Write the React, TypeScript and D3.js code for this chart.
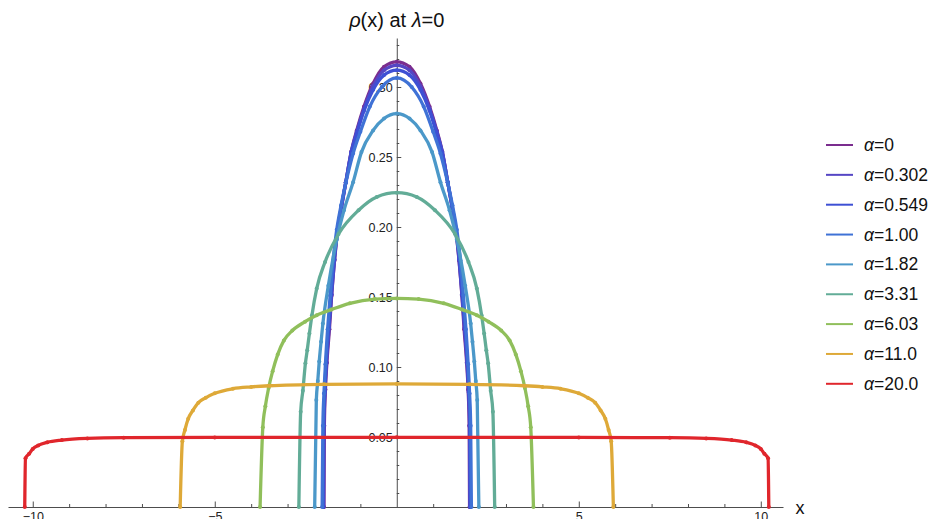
import { useEffect, useRef } from "react";
import * as d3 from "d3";

// right half of each density profile [x, rho], mirrored for x < 0
const ALPHA_LABELS = ["0", "0.302", "0.549", "1.00", "1.82", "3.31", "6.03", "11.0", "20.0"];
const COLORS = ["#7b2d8e", "#5546c4", "#3e50d4", "#3f72d6", "#4b98c9", "#62ac97", "#90bf5b", "#dea938", "#e0262c"];

const RHO_A0 = [[0, 0.318], [0.35, 0.3145], [0.65, 0.3025], [0.9, 0.286], [1.1, 0.269], [1.25, 0.254], [1.4, 0.232], [1.52, 0.214], [1.62, 0.198], [1.71, 0.176], [1.79, 0.151], [1.85, 0.127], [1.92, 0.103], [1.96, 0.084], [1.99, 0.058], [2.0, 0]];
const RHO_A1 = [[0, 0.3155], [0.35, 0.312], [0.65, 0.3005], [0.9, 0.2845], [1.1, 0.268], [1.25, 0.2535], [1.4, 0.232], [1.52, 0.2145], [1.62, 0.1985], [1.71, 0.177], [1.79, 0.152], [1.86, 0.128], [1.93, 0.103], [1.97, 0.083], [2.0, 0.058], [2.01, 0]];
const RHO_A2 = [[0, 0.312], [0.35, 0.3085], [0.65, 0.298], [0.9, 0.283], [1.1, 0.2665], [1.25, 0.253], [1.4, 0.232], [1.52, 0.215], [1.63, 0.198], [1.72, 0.177], [1.8, 0.152], [1.87, 0.128], [1.94, 0.103], [1.98, 0.082], [2.01, 0.058], [2.02, 0]];
const RHO_A3 = [[0, 0.3065], [0.41, 0.3], [0.74, 0.286], [1.0, 0.268], [1.2, 0.2525], [1.4, 0.2315], [1.53, 0.2155], [1.65, 0.198], [1.75, 0.176], [1.83, 0.151], [1.9, 0.127], [1.96, 0.102], [2.0, 0.081], [2.03, 0.058], [2.05, 0]];
const RHO_A4 = [[0, 0.281], [0.35, 0.2775], [0.65, 0.269], [0.97, 0.2535], [1.2, 0.232], [1.45, 0.212], [1.65, 0.191], [1.88, 0.158], [2.03, 0.131], [2.08, 0.118], [2.13, 0.104], [2.17, 0.09], [2.21, 0.0764], [2.255, 0]];
const RHO_A5 = [[0, 0.2245], [0.55, 0.2215], [1.05, 0.212], [1.6, 0.195], [1.97, 0.175], [2.2, 0.156], [2.33, 0.137], [2.4, 0.124], [2.46, 0.112], [2.51, 0.1026], [2.58, 0.083], [2.64, 0.068], [2.69, 0]];
const RHO_A6 = [[0, 0.149], [0.6, 0.1485], [1.29, 0.1455], [1.8, 0.141], [2.2, 0.137], [2.52, 0.1324], [2.87, 0.126], [3.1, 0.119], [3.27, 0.109], [3.41, 0.097], [3.52, 0.085], [3.61, 0.072], [3.68, 0.057], [3.755, 0]];
const RHO_A7 = [[0, 0.0879], [2.0, 0.0876], [3.5, 0.0866], [4.0, 0.0858], [4.5, 0.0845], [5.0, 0.0812], [5.25, 0.078], [5.45, 0.0745], [5.6, 0.069], [5.73, 0.063], [5.82, 0.055], [5.89, 0.047], [5.95, 0]];
const RHO_A8 = [[0, 0.0498], [5, 0.0497], [7.5, 0.0495], [8.5, 0.049], [9.2, 0.0478], [9.6, 0.0462], [9.85, 0.044], [10.0, 0.0415], [10.1, 0.038], [10.2, 0.0348], [10.22, 0]];
const PROFILES = [RHO_A0, RHO_A1, RHO_A2, RHO_A3, RHO_A4, RHO_A5, RHO_A6, RHO_A7, RHO_A8];

const X_MAJOR = [-10, -5, 5, 10];
const Y_MAJOR = [0.05, 0.1, 0.15, 0.2, 0.25, 0.3];

const W = 930;
const H = 519;
const FONT = "'Liberation Sans', Arial, sans-serif";

function mirror(half: number[][]) {
  const left = half.slice(1).map(([x, y]) => [-x, y]).reverse();
  return left.concat(half);
}

export default function App() {
  const ref = useRef<SVGSVGElement>(null);

  useEffect(() => {
    const svg = d3.select(ref.current);
    svg.selectAll("*").remove();

    const x = d3.scaleLinear().domain([-10.68, 10.61]).range([8, 783]);
    const y = d3.scaleLinear().domain([0, 0.335]).range([507, 38]);

    // axes (ticks point into the plot, like Mathematica)
    const xMinor = d3.range(-10, 11).filter((v) => v !== 0 && !X_MAJOR.includes(v));
    const yMinor = d3.range(1, 34).map((v) => v / 100).filter((v) => !Y_MAJOR.some((m) => Math.abs(m - v) < 1e-9));

    const gx = svg.append("g").attr("transform", `translate(0,${y(0)})`);
    gx.call(d3.axisBottom(x).tickValues(X_MAJOR).tickSize(-5.5).tickSizeOuter(0).tickPadding(5).tickFormat(d3.format("d")));
    const gxm = svg.append("g").attr("transform", `translate(0,${y(0)})`);
    gxm.call(d3.axisBottom(x).tickValues(xMinor).tickSize(-3).tickFormat(() => ""));
    gxm.select(".domain").remove();

    const gy = svg.append("g").attr("transform", `translate(${x(0)},0)`);
    gy.call(d3.axisLeft(y).tickValues(Y_MAJOR).tickSize(-4.5).tickSizeOuter(0).tickPadding(4).tickFormat(d3.format(".2f")));
    const gym = svg.append("g").attr("transform", `translate(${x(0)},0)`);
    gym.call(d3.axisLeft(y).tickValues(yMinor).tickSize(-2.5).tickFormat(() => ""));
    gym.select(".domain").remove();

    svg.selectAll(".domain").attr("stroke", "#4d4d4d").attr("stroke-width", 1);
    svg.selectAll(".tick line").attr("stroke", "#4d4d4d");
    svg.selectAll(".tick text").attr("font-family", FONT).attr("font-size", 12.5).attr("fill", "#222");

    // curves
    const line = d3
      .line<number[]>()
      .x((d) => x(d[0]))
      .y((d) => y(d[1]))
      .curve(d3.curveMonotoneX);

    PROFILES.forEach((half, i) => {
      const pts = mirror(half);
      const g = svg.append("g");
      g.append("path")
        .datum(pts)
        .attr("fill", "none")
        .attr("stroke", COLORS[i])
        .attr("stroke-width", 3.3)
        .attr("stroke-linejoin", "round")
        .attr("d", line);
      g.selectAll("circle")
        .data(pts)
        .join("circle")
        .attr("cx", (d) => x(d[0]))
        .attr("cy", (d) => y(d[1]))
        .attr("r", 2)
        .attr("fill", COLORS[i]);
    });

    // title and axis label
    const title = svg
      .append("text")
      .attr("x", x(0))
      .attr("y", 27)
      .attr("text-anchor", "middle")
      .attr("font-family", FONT)
      .attr("font-size", 20)
      .attr("fill", "#111");
    title.append("tspan").attr("font-style", "italic").text("ρ");
    title.append("tspan").text("(x) at ");
    title.append("tspan").attr("font-style", "italic").text("λ");
    title.append("tspan").text("=0");

    svg
      .append("text")
      .attr("x", 800)
      .attr("y", 514)
      .attr("text-anchor", "middle")
      .attr("font-family", FONT)
      .attr("font-size", 18)
      .attr("fill", "#111")
      .text("x");

    // legend
    const legend = svg.append("g").attr("transform", "translate(826,145)");
    ALPHA_LABELS.forEach((lab, i) => {
      const row = legend.append("g").attr("transform", `translate(0,${i * 29.85})`);
      row
        .append("line")
        .attr("x1", 0)
        .attr("x2", 27)
        .attr("stroke", COLORS[i])
        .attr("stroke-width", 2);
      const t = row
        .append("text")
        .attr("x", 38)
        .attr("y", 6)
        .attr("font-family", FONT)
        .attr("font-size", 17.5)
        .attr("fill", "#111");
      t.append("tspan").attr("font-style", "italic").text("α");
      t.append("tspan").text(`=${lab}`);
    });
  }, []);

  return (
    <svg
      ref={ref}
      width={W}
      height={H}
      style={{ position: "absolute", left: 0, top: 0, background: "#fff" }}
    />
  );
}
